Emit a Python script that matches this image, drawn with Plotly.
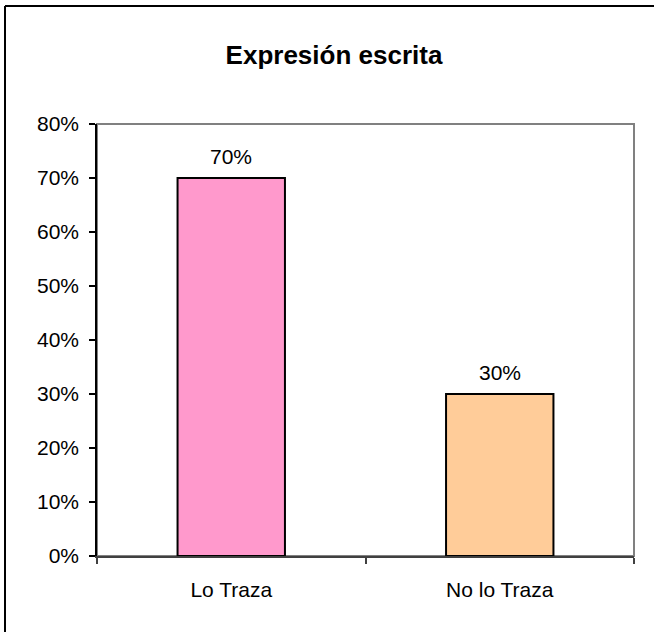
import plotly.graph_objects as go

categories = ["Lo Traza", "No lo Traza"]
values = [0.70, 0.30]
bar_colors = ["#FF99CC", "#FFCC99"]
title_text = "Expresión escrita"

W, H = 654, 632
L, R, T, B = 97, 20, 124, 76
pw, ph = W - L - R, H - T - B
FONT = "Liberation Sans, Arial"

fig = go.Figure()
fig.add_trace(go.Bar(
    x=categories, y=values, width=0.4,
    marker=dict(color=bar_colors, line=dict(color="black", width=2)),
    hoverinfo="skip",
))

for c, v in zip(categories, values):
    fig.add_annotation(x=c, y=v, text=f"{round(v*100)}%", showarrow=False,
                       yanchor="bottom", yshift=8,
                       font=dict(family=FONT, size=21, color="black"))

# plot area border (gray)
fig.add_shape(type="rect", xref="paper", yref="paper", x0=0, y0=0, x1=1, y1=1,
              line=dict(color="#808080", width=2), layer="below")
# outer chart border (top and left edges visible)
bx = -(L - 5) / pw
by = 1 + (T - 6) / ph
fig.add_shape(type="line", xref="paper", yref="paper", x0=bx, y0=by, x1=1 + (R + 5) / pw, y1=by,
              line=dict(color="black", width=2))
fig.add_shape(type="line", xref="paper", yref="paper", x0=bx, y0=by, x1=bx, y1=-(B + 5) / ph,
              line=dict(color="black", width=2))

fig.update_layout(
    width=W, height=H,
    margin=dict(l=L, r=R, t=T, b=B),
    paper_bgcolor="white", plot_bgcolor="white",
    showlegend=False,
    font=dict(family=FONT, size=21, color="black"),
    title=dict(text=f"<b>{title_text}</b>", x=334 / W, xanchor="center",
               y=1 - 55 / H, yanchor="middle",
               font=dict(family=FONT, size=26, color="black")),
)
fig.update_xaxes(
    showgrid=False, showline=True, linecolor="#404040", linewidth=2,
    ticks="outside", tickson="boundaries", ticklen=6, tickcolor="#404040", tickwidth=1.5,
    tickfont=dict(size=21), ticklabelstandoff=14, range=[-0.5, 1.5],
)
fig.update_yaxes(
    range=[0, 0.8], dtick=0.1, tickformat=".0%", showgrid=False, zeroline=False,
    showline=True, linecolor="black", linewidth=1.5,
    ticks="outside", ticklen=6, tickcolor="black", tickwidth=1.5,
    tickfont=dict(size=21), ticklabelstandoff=6,
)

fig.write_html("out.html", config={"displayModeBar": False},
               post_script="document.body.style.margin='0';document.body.style.overflow='hidden';")
